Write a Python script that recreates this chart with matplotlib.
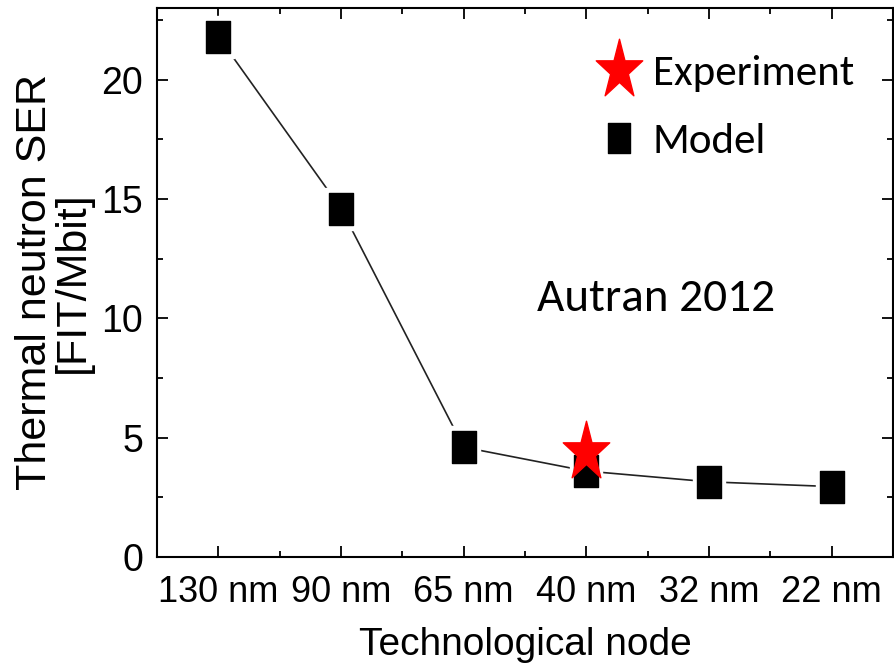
import numpy as np
import matplotlib
matplotlib.use("Agg")
import matplotlib.pyplot as plt
from matplotlib.path import Path
from matplotlib.lines import Line2D
from matplotlib.ticker import MultipleLocator
from matplotlib import font_manager as fm

# data
nodes = ["130 nm", "90 nm", "65 nm", "40 nm", "32 nm", "22 nm"]
model_ser = [21.8, 14.6, 4.6, 3.6, 3.15, 2.95]
exp_node = "40 nm"
exp_ser = 4.4

# pick a narrow font if there is one
def have(name):
    try:
        fm.findfont(name, fallback_to_default=False)
        return True
    except Exception:
        return False

axis_font = "Liberation Sans Narrow" if have("Liberation Sans Narrow") else "Liberation Sans"
note_font = "Carlito" if have("Carlito") else "Lato"

# the reference is stretched vertically, so markers are too
rect = Path([(-12.5, -16), (12.5, -16), (12.5, 16), (-12.5, 16), (-12.5, -16)],
            [Path.MOVETO, Path.LINETO, Path.LINETO, Path.LINETO, Path.CLOSEPOLY])
star0 = Path.unit_regular_star(5, 0.381966)
star = Path(star0.vertices * np.array([1.0, 1.28]), star0.codes)

fig = plt.figure(figsize=(8.94, 6.7), dpi=100)
ax = fig.add_axes([157 / 894, 113 / 670, 736 / 894, 549 / 670])

x = np.arange(len(nodes))
ax.plot(x, model_ser, color="#222222", lw=1.2, zorder=2)
ax.plot(x, model_ser, ls="none", marker=rect, ms=30, color="white", zorder=3)
ax.plot(x, model_ser, ls="none", marker=rect, ms=23, color="black", zorder=4)
ax.plot([nodes.index(exp_node)], [exp_ser], ls="none", marker=star, ms=45,
        color="red", zorder=5)

ax.set_xlim(-0.5, 5.5)
ax.set_ylim(0, 23)
ax.set_xticks(x)
ax.set_xticklabels(nodes)
ax.xaxis.set_minor_locator(MultipleLocator(0.5))
ax.yaxis.set_major_locator(MultipleLocator(5))
ax.yaxis.set_minor_locator(MultipleLocator(2.5))
ax.tick_params(which="both", direction="in", top=True, right=True, width=1.3,
               labelsize=27, colors="black")
ax.tick_params(which="major", length=8, pad=10)
ax.tick_params(axis="x", which="major", pad=13, labelsize=26)
ax.tick_params(which="minor", length=4)
for lab in ax.get_xticklabels() + ax.get_yticklabels():
    lab.set_family(axis_font)
for sp in ax.spines.values():
    sp.set_linewidth(1.5)

ax.set_xlabel("Technological node", fontsize=28, family=axis_font, labelpad=12)
ax.set_ylabel("Thermal neutron SER\n[FIT/Mbit]", fontsize=31, family="Liberation Sans",
              linespacing=0.95, labelpad=6)

handles = [Line2D([], [], ls="none", marker=star, ms=45, color="red"),
           Line2D([], [], ls="none", marker=rect, ms=21, color="black")]
ax.legend(handles, ["Experiment", "Model"], loc="upper right", frameon=False,
          prop={"family": note_font, "size": 31}, handlelength=1.2,
          handletextpad=0.2, labelspacing=0.72, bbox_to_anchor=(1.0, 0.985))

ax.text(0.678, 0.47, "Autran 2012", transform=ax.transAxes, ha="center",
        va="center", fontsize=34, family=note_font)

fig.savefig("out.png", dpi=100)
